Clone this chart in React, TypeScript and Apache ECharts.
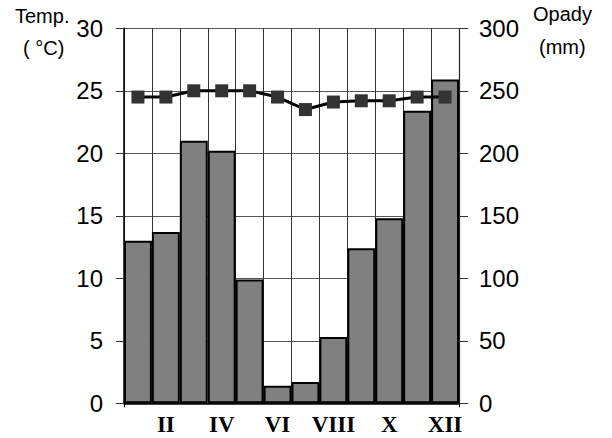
import React, { useEffect, useRef } from "react";
import * as echarts from "echarts";

const months = ["I", "II", "III", "IV", "V", "VI", "VII", "VIII", "IX", "X", "XI", "XII"];
const precipitation = [130, 137, 210, 202, 99, 14, 17, 53, 124, 148, 234, 259];
const temperature = [24.5, 24.5, 25, 25, 25, 24.5, 23.5, 24.1, 24.2, 24.2, 24.5, 24.5];
const tempTicks = { min: 0, max: 30, interval: 5 };
const precTicks = { min: 0, max: 300, interval: 50 };

export default function App() {
  const ref = useRef<HTMLDivElement>(null);
  useEffect(() => {
    if (!ref.current) return;
    const chart = echarts.init(ref.current, null, { renderer: "svg" });
    const sans = "Liberation Sans, Arial, sans-serif";
    const serif = "Liberation Serif, Times New Roman, serif";
    chart.setOption({
      animation: false,
      backgroundColor: "#ffffff",
      grid: { left: 124, right: 153, top: 28.3, bottom: 34.7, containLabel: false },
      xAxis: {
        type: "category",
        data: months,
        boundaryGap: true,
        axisLine: { show: true, lineStyle: { color: "#000", width: 1.5 } },
        axisTick: { show: true, length: 4, interval: (i: number) => i === 0, lineStyle: { color: "#000" } },
        axisLabel: {
          interval: (i: number) => i % 2 === 1,
          fontFamily: serif,
          fontWeight: "bold",
          fontSize: 23,
          color: "#000",
          margin: 10,
        },
        splitLine: { show: true, interval: 0, lineStyle: { color: "#333", width: 1 } },
      },
      yAxis: [
        {
          type: "value",
          min: tempTicks.min,
          max: tempTicks.max,
          interval: tempTicks.interval,
          axisLine: { show: true, lineStyle: { color: "#000", width: 1.5 } },
          axisTick: { show: true, inside: false, length: 8, lineStyle: { color: "#333" } },
          axisLabel: { fontFamily: sans, fontSize: 24, color: "#000", margin: 21 },
          splitLine: { show: true, lineStyle: { color: "#555", width: 1 } },
        },
        {
          type: "value",
          min: precTicks.min,
          max: precTicks.max,
          interval: precTicks.interval,
          position: "right",
          axisLine: { show: true, lineStyle: { color: "#222", width: 1.2 } },
          axisTick: { show: true, inside: false, length: 9, lineStyle: { color: "#333" } },
          axisLabel: { fontFamily: sans, fontSize: 24, color: "#000", margin: 20 },
          splitLine: { show: false },
        },
      ],
      series: [
        {
          type: "bar",
          yAxisIndex: 1,
          data: precipitation,
          barCategoryGap: "0%",
          itemStyle: { color: "#808080", borderColor: "#000", borderWidth: 2 },
          z: 2,
        },
        {
          type: "line",
          yAxisIndex: 0,
          data: temperature,
          symbol: "rect",
          symbolSize: 13,
          lineStyle: { color: "#000", width: 3 },
          itemStyle: { color: "#333333", borderWidth: 0 },
          z: 5,
        },
      ],
      graphic: [
        { type: "text", left: 15, top: 6, style: { text: "Temp.", font: `20px ${sans}`, fill: "#000" } },
        { type: "text", left: 23, top: 38, style: { text: "( °C)", font: `20px ${sans}`, fill: "#000" } },
        { type: "text", left: 533, top: 4, style: { text: "Opady", font: `20px ${sans}`, fill: "#000" } },
        { type: "text", left: 539, top: 37, style: { text: "(mm)", font: `20px ${sans}`, fill: "#000" } },
      ],
    });
    return () => chart.dispose();
  }, []);
  return <div ref={ref} style={{ position: "fixed", left: 0, top: 0, width: 612, height: 438 }} />;
}
